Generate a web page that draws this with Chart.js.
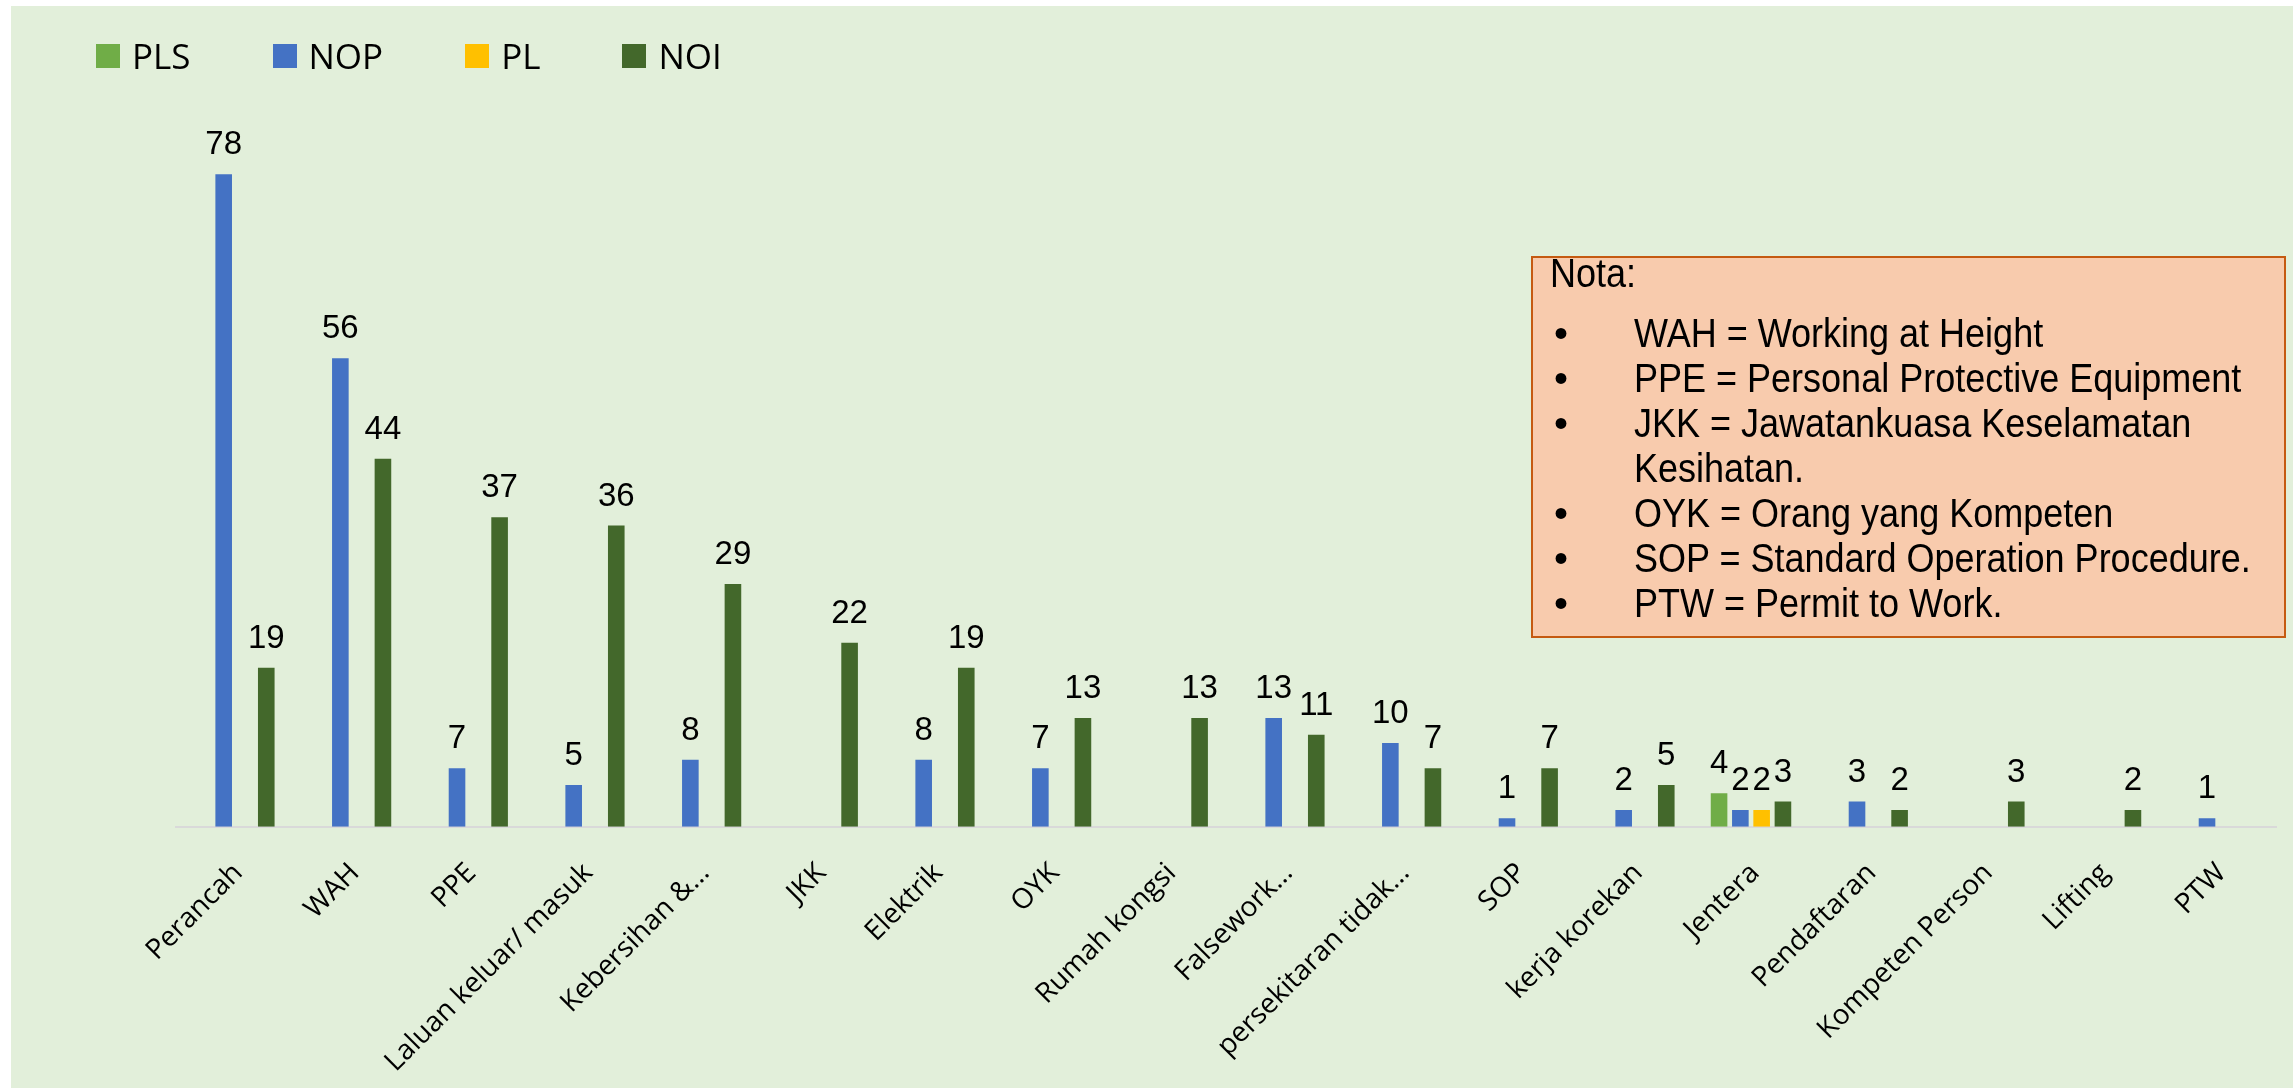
<!DOCTYPE html>
<html>
<head>
<meta charset="utf-8">
<script src="https://cdn.jsdelivr.net/npm/chart.js@4"></script>
<style>
  body { margin: 0; background: #fff; width: 2293px; height: 1088px; overflow: hidden; position: relative; }
  #wrap { position: absolute; left: 11px; top: 6px; width: 2282px; height: 1082px; background: #E2EFDA; }
  #legend { position: absolute; left: 96px; top: 38px; display: flex; align-items: center; font-family: "Open Sans", sans-serif; font-size: 35px; line-height: 1; color: #000; }
  #legend .item { display: flex; align-items: center; margin-right: 82px; }
  #legend .box { width: 24px; height: 24px; margin-right: 12px; }
  #nota { position: absolute; left: 1531px; top: 256px; width: 755px; height: 382px; box-sizing: border-box;
          background: #F8CBAD; border: 2px solid #C55A11; font-family: "Liberation Sans", Arial, sans-serif;
          font-size: 40px; line-height: 45px; color: #000; padding: 8px 0 0 17px; white-space: nowrap; }
  #nota .head { position: relative; top: -15px; }
  #nota .li { position: relative; padding-left: 84px; }
  #nota .li::before { content: "•"; position: absolute; left: 4px; }
  #nota .t { display: inline-block; transform: scaleX(0.9); transform-origin: 0 0; }
</style>
</head>
<body>
<div id="wrap"><canvas id="chart" width="2282" height="1082"></canvas></div>
<div id="legend"></div>
<div id="nota">
  <div class="head"><span class="t">Nota:</span></div>
  <div class="li"><span class="t">WAH = Working at Height</span></div>
  <div class="li"><span class="t">PPE = Personal Protective Equipment</span></div>
  <div class="li"><span class="t">JKK = Jawatankuasa Keselamatan<br>Kesihatan.</span></div>
  <div class="li"><span class="t">OYK = Orang yang Kompeten</span></div>
  <div class="li"><span class="t">SOP = Standard Operation Procedure.</span></div>
  <div class="li"><span class="t">PTW = Permit to Work.</span></div>
</div>
<script>
const categories = ['Perancah', 'WAH', 'PPE', 'Laluan keluar/ masuk', 'Kebersihan &…', 'JKK', 'Elektrik', 'OYK',
  'Rumah kongsi', 'Falsework…', 'persekitaran tidak…', 'SOP', 'kerja korekan', 'Jentera', 'Pendaftaran',
  'Kompeten Person', 'Lifting', 'PTW'];
const pls = [null, null, null, null, null, null, null, null, null, null, null, null, null, 4, null, null, null, null];
const nop = [78, 56, 7, 5, 8, null, 8, 7, null, 13, 10, 1, 2, 2, 3, null, null, 1];
const pl  = [null, null, null, null, null, null, null, null, null, null, null, null, null, 2, null, null, null, null];
const noi = [19, 44, 37, 36, 29, 22, 19, 13, 13, 11, 7, 7, 5, 3, 2, 3, 2, null];

const seriesNames = ['PLS', 'NOP', 'PL', 'NOI'];
const seriesColors = ['#70AD47', '#4472C4', '#FFC000', '#43682B'];
const seriesData = [pls, nop, pl, noi];

// value labels above each bar
const valueLabels = {
  id: 'valueLabels',
  afterDatasetsDraw(chart) {
    const ctx = chart.ctx;
    ctx.save();
    ctx.font = '33px "Liberation Sans", sans-serif';
    ctx.fillStyle = '#000';
    ctx.textAlign = 'center';
    ctx.textBaseline = 'alphabetic';
    chart.data.datasets.forEach((ds, i) => {
      chart.getDatasetMeta(i).data.forEach((bar, j) => {
        const v = ds.data[j];
        if (v == null) return;
        ctx.fillText(String(v), bar.x, bar.y - 20);
      });
    });
    ctx.restore();
  }
};

const ctx = document.getElementById('chart').getContext('2d');
const chart = new Chart(ctx, {
  type: 'bar',
  data: {
    labels: categories,
    datasets: seriesNames.map((name, i) => ({
      label: name,
      data: seriesData[i],
      backgroundColor: seriesColors[i],
      categoryPercentage: 0.73,
      barPercentage: 0.78
    }))
  },
  options: {
    responsive: false,
    animation: false,
    layout: { padding: { left: 165, right: 17, top: 151.5, bottom: 0 } },
    plugins: { legend: { display: false }, tooltip: { enabled: false } },
    scales: {
      x: {
        grid: { display: false, drawTicks: false },
        border: { color: '#D9D9D9', width: 2 },
        ticks: {
          autoSkip: false, minRotation: 45, maxRotation: 45, padding: 30, labelOffset: 4,
          color: '#000', font: { family: '"Open Sans", sans-serif', size: 28 }
        },
        afterFit(scale) { scale.height = 261.3; }
      },
      y: { display: false, min: 0, max: 80 }
    }
  },
  plugins: [valueLabels]
});

// legend built from the datasets
const legend = document.getElementById('legend');
chart.data.datasets.forEach(ds => {
  const item = document.createElement('div');
  item.className = 'item';
  const box = document.createElement('div');
  box.className = 'box';
  box.style.background = ds.backgroundColor;
  const txt = document.createElement('span');
  txt.textContent = ds.label;
  item.appendChild(box);
  item.appendChild(txt);
  legend.appendChild(item);
});
</script>
</body>
</html>
